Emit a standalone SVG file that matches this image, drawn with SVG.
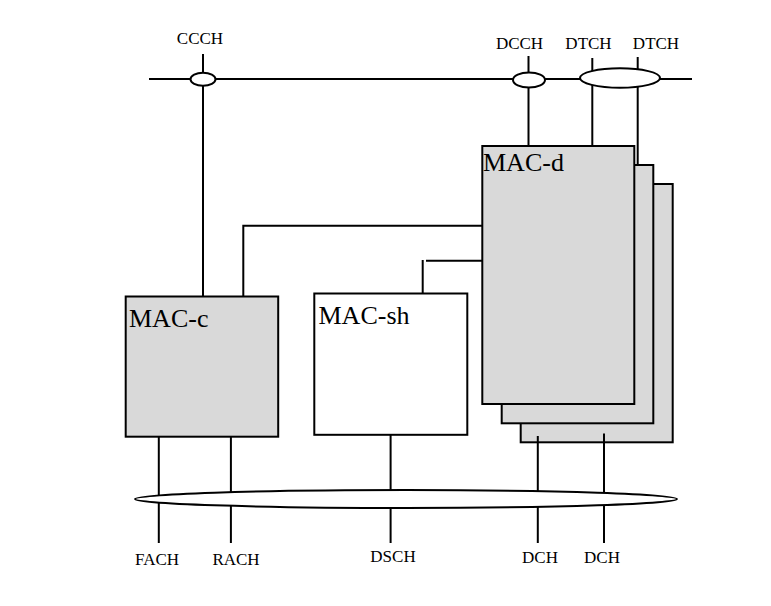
<svg xmlns="http://www.w3.org/2000/svg" width="771" height="606" viewBox="0 0 771 606">
<style>
.ln{stroke:#000;stroke-width:2;fill:none}
.ell{stroke:#000;stroke-width:2;fill:#fff}
.box{stroke:#000;stroke-width:2;fill:#d9d9d9}
.wbox{stroke:#000;stroke-width:2;fill:#fff}
.lbl{font-family:"Liberation Serif","Times New Roman",serif;font-size:17px;fill:#000;text-anchor:middle}
.big{font-family:"Liberation Serif","Times New Roman",serif;font-size:26px;fill:#000}
</style>
<rect width="771" height="606" fill="#fff"/>
<g id="connectors">
<line class="ln" x1="149" y1="79" x2="692" y2="79"/>
<line class="ln" x1="203" y1="54" x2="203" y2="297"/>
<line class="ln" x1="528.5" y1="56" x2="528.5" y2="146"/>
<line class="ln" x1="592.3" y1="58" x2="592.3" y2="146"/>
<line class="ln" x1="637.7" y1="57" x2="637.7" y2="165"/>
<polyline class="ln" points="243.3,297 243.3,225.7 482,225.7"/>
<line class="ln" x1="422.7" y1="260" x2="422.7" y2="294"/>
<line class="ln" x1="426" y1="260.7" x2="482" y2="260.7"/>
<line class="ln" x1="158.8" y1="437" x2="158.8" y2="543"/>
<line class="ln" x1="230.9" y1="437" x2="230.9" y2="543"/>
<line class="ln" x1="390.6" y1="435" x2="390.6" y2="543"/>
<line class="ln" x1="537.8" y1="436" x2="537.8" y2="543"/>
<line class="ln" x1="604" y1="433.5" x2="604" y2="543"/>
</g>
<g id="ccch-ellipse"><ellipse class="ell" cx="203" cy="79.2" rx="12.5" ry="6.5"/></g>
<g id="dcch-ellipse"><ellipse class="ell" cx="529" cy="80" rx="16" ry="7.5"/></g>
<g id="dtch-ellipse"><ellipse class="ell" cx="620" cy="78" rx="40" ry="9.7"/></g>
<g id="transport-ellipse"><ellipse class="ell" cx="406" cy="499" rx="271" ry="9"/></g>
<g id="mac-c">
<rect class="box" x="125.7" y="296.5" width="152.5" height="140.2"/>
<text class="big" x="129" y="326.5">MAC-c</text>
</g>
<g id="mac-sh">
<rect class="wbox" x="314.3" y="293.5" width="153" height="141.3"/>
<text class="big" x="318.5" y="323.5">MAC-sh</text>
</g>
<g id="mac-d">
<rect class="box" x="520.7" y="184" width="152" height="258.3"/>
<rect class="box" x="501.7" y="165" width="151.6" height="258.3"/>
<rect class="box" x="482.3" y="146" width="152" height="258"/>
<text class="big" x="483" y="170.5">MAC-d</text>
</g>
<g id="dch-lines-over">
<line class="ln" x1="537.8" y1="436" x2="537.8" y2="442"/>
<line class="ln" x1="604" y1="433.5" x2="604" y2="442"/>
</g>
<g id="labels">
<text class="lbl" x="200" y="44">CCCH</text>
<text class="lbl" x="519.5" y="49">DCCH</text>
<text class="lbl" x="588.5" y="49">DTCH</text>
<text class="lbl" x="656" y="49">DTCH</text>
<text class="lbl" x="157" y="565">FACH</text>
<text class="lbl" x="236" y="565">RACH</text>
<text class="lbl" x="393" y="562">DSCH</text>
<text class="lbl" x="540" y="563">DCH</text>
<text class="lbl" x="602" y="563">DCH</text>
</g>
</svg>
